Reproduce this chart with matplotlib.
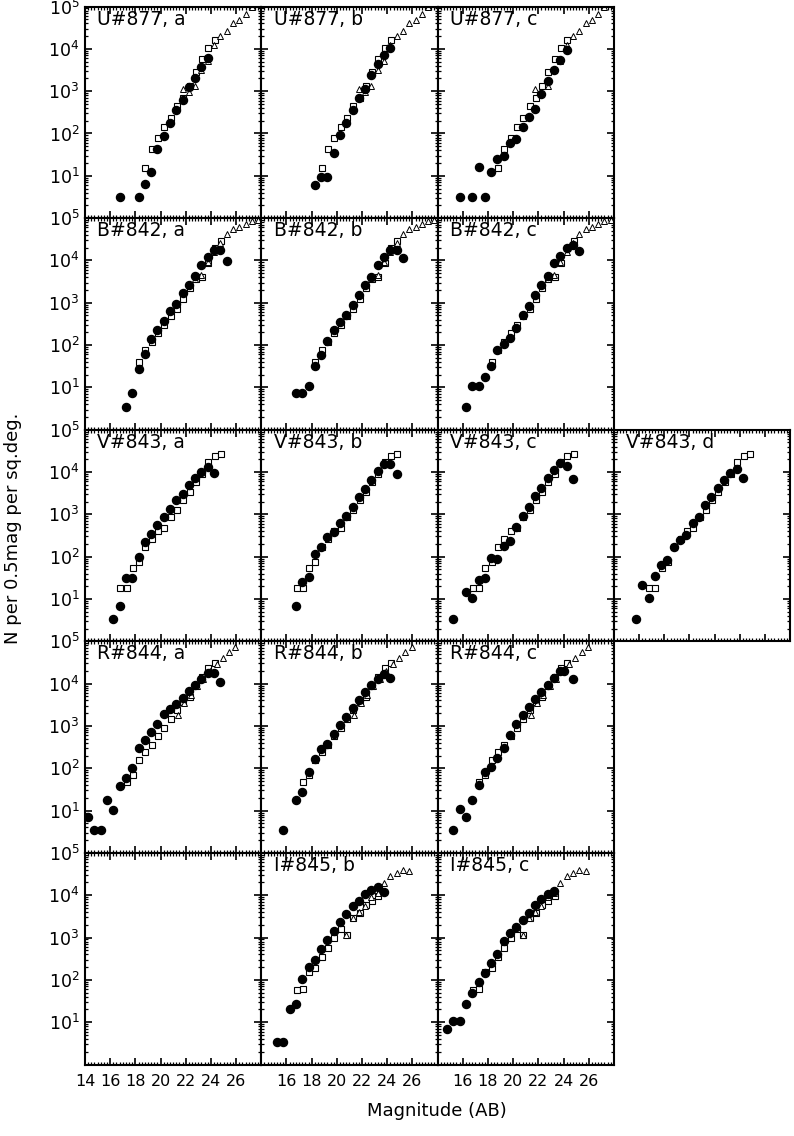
import matplotlib.pyplot as plt
import numpy as np
from matplotlib.ticker import MultipleLocator, LogLocator, NullFormatter

# ---- comparison counts shared by all fields of a band (log10 N) ----
u_sq_mag = [18.8, 19.3, 19.8, 20.3, 20.8, 21.3, 21.8, 22.3, 22.8, 23.3, 23.8, 24.3]
u_sq_logn = [1.18, 1.64, 1.89, 2.15, 2.37, 2.66, 2.83, 3.11, 3.45, 3.75, 4.01, 4.20]
u_tri_mag = [21.75, 22.25, 22.75, 23.25, 23.75, 24.25, 24.75, 25.25, 25.75, 26.25, 26.75, 27.25, 27.75]
u_tri_logn = [3.06, 2.99, 3.12, 3.49, 3.72, 4.08, 4.31, 4.43, 4.61, 4.69, 4.83, 5.0, 5.1]

b_sq_mag = [18.3, 18.8, 19.3, 19.8, 20.3, 20.8, 21.3, 21.8, 22.3, 22.8, 23.3, 23.8, 24.3, 24.8]
b_sq_logn = [1.60, 1.88, 2.07, 2.28, 2.48, 2.68, 2.86, 3.09, 3.34, 3.55, 3.62, 3.95, 4.30, 4.47]
b_tri_mag = [22.75, 23.25, 23.75, 24.25, 24.75, 25.25, 25.75, 26.25, 26.75, 27.25, 27.75]
b_tri_logn = [3.55, 3.65, 3.97, 4.20, 4.40, 4.62, 4.74, 4.80, 4.86, 4.92, 4.95]

v_sq_mag = [16.8, 17.3, 17.8, 18.3, 18.8, 19.3, 19.8, 20.3, 20.8, 21.3, 21.8, 22.3, 22.8, 23.3, 23.8, 24.3, 24.8]
v_sq_logn = [1.27, 1.27, 1.73, 1.87, 2.22, 2.41, 2.61, 2.67, 2.93, 3.10, 3.33, 3.53, 3.77, 3.96, 4.23, 4.37, 4.43]

r_sq_mag = [17.3, 17.8, 18.3, 18.8, 19.3, 19.8, 20.3, 20.8, 21.3, 21.8, 22.3, 22.8, 23.3, 23.8, 24.3]
r_sq_logn = [1.67, 1.84, 2.19, 2.38, 2.55, 2.76, 2.94, 3.17, 3.38, 3.56, 3.69, 3.94, 4.15, 4.36, 4.49]
r_tri_mag = [21.4, 21.9, 22.4, 22.9, 23.4, 23.9, 24.45, 24.95, 25.45, 25.95]
r_tri_logn = [3.27, 3.55, 3.72, 3.95, 4.12, 4.30, 4.47, 4.61, 4.75, 4.86]

i_sq_mag = [16.8, 17.3, 17.8, 18.3, 18.8, 19.3, 19.8, 20.3, 20.8, 21.3, 21.8, 22.3, 22.8, 23.3]
i_sq_logn = [1.75, 1.79, 2.18, 2.28, 2.54, 2.76, 2.99, 3.19, 3.07, 3.45, 3.58, 3.76, 3.86, 3.98]
i_tri_mag = [20.75, 21.25, 21.75, 22.25, 22.75, 23.25, 23.75, 24.25, 24.75, 25.25, 25.75]
i_tri_logn = [3.07, 3.45, 3.60, 3.75, 3.95, 4.05, 4.29, 4.46, 4.52, 4.60, 4.57]

# ---- our counts per field (filled circles) ----
u877_a_mag = [16.75, 18.25, 18.75, 19.25, 19.75, 20.25, 20.75, 21.25, 21.75, 22.25, 22.75, 23.25, 23.75]
u877_a_logn = [0.50, 0.50, 0.80, 1.09, 1.64, 1.94, 2.25, 2.56, 2.80, 3.09, 3.31, 3.57, 3.78]
u877_b_mag = [18.25, 18.75, 19.25, 19.75, 20.25, 20.75, 21.25, 21.75, 22.25, 22.75, 23.25, 23.75, 24.25]
u877_b_logn = [0.79, 0.97, 0.97, 1.53, 1.97, 2.25, 2.55, 2.83, 3.05, 3.39, 3.64, 3.86, 4.02]
u877_c_mag = [15.75, 16.75, 17.25, 17.75, 18.25, 18.75, 19.25, 19.75, 20.25, 20.75, 21.25, 21.75, 22.25, 22.75, 23.25, 23.75, 24.25]
u877_c_logn = [0.50, 0.50, 1.20, 0.50, 1.10, 1.40, 1.46, 1.77, 1.88, 2.15, 2.40, 2.58, 2.94, 3.23, 3.49, 3.74, 3.98]

b842_a_mag = [17.25, 17.75, 18.25, 18.75, 19.25, 19.75, 20.25, 20.75, 21.25, 21.75, 22.25, 22.75, 23.25, 23.75, 24.25, 24.75, 25.25]
b842_a_logn = [0.54, 0.86, 1.44, 1.80, 2.15, 2.36, 2.58, 2.80, 2.97, 3.23, 3.42, 3.64, 3.88, 4.09, 4.25, 4.25, 3.98]
b842_b_mag = [16.75, 17.25, 17.75, 18.25, 18.75, 19.25, 19.75, 20.25, 20.75, 21.25, 21.75, 22.25, 22.75, 23.25, 23.75, 24.25, 24.75, 25.25]
b842_b_logn = [0.86, 0.86, 1.03, 1.50, 1.77, 2.09, 2.36, 2.54, 2.72, 2.95, 3.19, 3.41, 3.60, 3.88, 4.09, 4.25, 4.25, 4.05]
b842_c_mag = [16.25, 16.75, 17.25, 17.75, 18.25, 18.75, 19.25, 19.75, 20.25, 20.75, 21.25, 21.75, 22.25, 22.75, 23.25, 23.75, 24.25, 24.75, 25.25]
b842_c_logn = [0.54, 1.03, 1.03, 1.25, 1.50, 1.88, 2.02, 2.17, 2.41, 2.70, 2.92, 3.19, 3.41, 3.64, 3.93, 4.11, 4.29, 4.37, 4.23]

v843_a_mag = [16.25, 16.75, 17.25, 17.75, 18.25, 18.75, 19.25, 19.75, 20.25, 20.75, 21.25, 21.75, 22.25, 22.75, 23.25, 23.75, 24.25]
v843_a_logn = [0.53, 0.84, 1.49, 1.49, 1.99, 2.35, 2.54, 2.75, 2.93, 3.12, 3.34, 3.49, 3.69, 3.85, 4.00, 4.12, 3.98]
v843_b_mag = [16.75, 17.25, 17.75, 18.25, 18.75, 19.25, 19.75, 20.25, 20.75, 21.25, 21.75, 22.25, 22.75, 23.25, 23.75, 24.25, 24.75]
v843_b_logn = [0.84, 1.39, 1.53, 2.06, 2.24, 2.46, 2.59, 2.79, 2.97, 3.18, 3.41, 3.61, 3.82, 4.03, 4.20, 4.20, 3.96]
v843_c_mag = [15.25, 16.25, 16.75, 17.25, 17.75, 18.25, 18.75, 19.25, 19.75, 20.25, 20.75, 21.25, 21.75, 22.25, 22.75, 23.25, 23.75, 24.25, 24.75]
v843_c_logn = [0.53, 1.16, 1.02, 1.45, 1.49, 1.98, 1.95, 2.26, 2.38, 2.69, 2.96, 3.18, 3.44, 3.63, 3.87, 4.04, 4.22, 4.14, 3.83]
v843_d_mag = [15.75, 16.25, 16.75, 17.25, 17.75, 18.25, 18.75, 19.25, 19.75, 20.25, 20.75, 21.25, 21.75, 22.25, 22.75, 23.25, 23.75, 24.25]
v843_d_logn = [0.53, 1.33, 1.02, 1.55, 1.81, 1.92, 2.24, 2.39, 2.51, 2.79, 2.94, 3.23, 3.41, 3.63, 3.82, 3.98, 4.06, 3.86]

r844_a_mag = [14.25, 14.75, 15.25, 15.75, 16.25, 16.75, 17.25, 17.75, 18.25, 18.75, 19.25, 19.75, 20.25, 20.75, 21.25, 21.75, 22.25, 22.75, 23.25, 23.75, 24.25, 24.75]
r844_a_logn = [0.86, 0.55, 0.55, 1.25, 1.02, 1.59, 1.76, 2.00, 2.47, 2.66, 2.86, 3.04, 3.28, 3.39, 3.52, 3.67, 3.82, 3.96, 4.12, 4.25, 4.24, 4.04]
r844_b_mag = [15.75, 16.75, 17.25, 17.75, 18.25, 18.75, 19.25, 19.75, 20.25, 20.75, 21.25, 21.75, 22.25, 22.75, 23.25, 23.75, 24.25]
r844_b_logn = [0.55, 1.25, 1.45, 1.92, 2.21, 2.45, 2.58, 2.80, 3.02, 3.22, 3.43, 3.62, 3.80, 3.96, 4.11, 4.23, 4.14]
r844_c_mag = [15.25, 15.75, 16.25, 16.75, 17.25, 17.75, 18.25, 18.75, 19.25, 19.75, 20.25, 20.75, 21.25, 21.75, 22.25, 22.75, 23.25, 23.75, 24.05, 24.75]
r844_c_logn = [0.55, 1.04, 0.86, 1.25, 1.61, 1.92, 2.03, 2.24, 2.49, 2.79, 3.04, 3.26, 3.45, 3.63, 3.80, 3.96, 4.14, 4.29, 4.31, 4.12]

i845_b_mag = [15.25, 15.75, 16.25, 16.75, 17.25, 17.75, 18.25, 18.75, 19.25, 19.75, 20.25, 20.75, 21.25, 21.75, 22.25, 22.75, 23.25, 23.75]
i845_b_logn = [0.53, 0.53, 1.30, 1.43, 2.02, 2.30, 2.48, 2.72, 2.95, 3.15, 3.36, 3.56, 3.74, 3.87, 4.02, 4.13, 4.19, 4.07]
i845_c_mag = [14.75, 15.25, 15.75, 16.25, 16.75, 17.25, 17.75, 18.25, 18.75, 19.25, 19.75, 20.25, 20.75, 21.25, 21.75, 22.25, 22.75, 23.25]
i845_c_logn = [0.83, 1.02, 1.02, 1.44, 1.69, 1.95, 2.17, 2.39, 2.60, 2.93, 3.11, 3.25, 3.41, 3.58, 3.76, 3.92, 4.02, 4.09]

# (row, col, label, circles, squares, triangles)
panels = [
    (0, 0, 'U#877, a', (u877_a_mag, u877_a_logn), (u_sq_mag, u_sq_logn), (u_tri_mag, u_tri_logn)),
    (0, 1, 'U#877, b', (u877_b_mag, u877_b_logn), (u_sq_mag, u_sq_logn), (u_tri_mag, u_tri_logn)),
    (0, 2, 'U#877, c', (u877_c_mag, u877_c_logn), (u_sq_mag, u_sq_logn), (u_tri_mag, u_tri_logn)),
    (1, 0, 'B#842, a', (b842_a_mag, b842_a_logn), (b_sq_mag, b_sq_logn), (b_tri_mag, b_tri_logn)),
    (1, 1, 'B#842, b', (b842_b_mag, b842_b_logn), (b_sq_mag, b_sq_logn), (b_tri_mag, b_tri_logn)),
    (1, 2, 'B#842, c', (b842_c_mag, b842_c_logn), (b_sq_mag, b_sq_logn), (b_tri_mag, b_tri_logn)),
    (2, 0, 'V#843, a', (v843_a_mag, v843_a_logn), (v_sq_mag, v_sq_logn), None),
    (2, 1, 'V#843, b', (v843_b_mag, v843_b_logn), (v_sq_mag, v_sq_logn), None),
    (2, 2, 'V#843, c', (v843_c_mag, v843_c_logn), (v_sq_mag, v_sq_logn), None),
    (2, 3, 'V#843, d', (v843_d_mag, v843_d_logn), (v_sq_mag, v_sq_logn), None),
    (3, 0, 'R#844, a', (r844_a_mag, r844_a_logn), (r_sq_mag, r_sq_logn), (r_tri_mag, r_tri_logn)),
    (3, 1, 'R#844, b', (r844_b_mag, r844_b_logn), (r_sq_mag, r_sq_logn), (r_tri_mag, r_tri_logn)),
    (3, 2, 'R#844, c', (r844_c_mag, r844_c_logn), (r_sq_mag, r_sq_logn), (r_tri_mag, r_tri_logn)),
    (4, 0, None, None, None, None),
    (4, 1, 'I#845, b', (i845_b_mag, i845_b_logn), (i_sq_mag, i_sq_logn), (i_tri_mag, i_tri_logn)),
    (4, 2, 'I#845, c', (i845_c_mag, i845_c_logn), (i_sq_mag, i_sq_logn), (i_tri_mag, i_tri_logn)),
]

W, H = 794, 1136
col_left = [85 + 176.3 * c for c in range(4)]
row_top = [6.5 + 211.6 * r for r in range(5)]
pw, ph = 176.3, 211.6

fig = plt.figure(figsize=(W / 100, H / 100), dpi=100)


def setup_axes(ax, row, col):
    ax.set_yscale('log')
    ax.set_xlim(14, 28)
    ax.set_ylim(1, 1e5)
    ax.xaxis.set_major_locator(MultipleLocator(2))
    ax.xaxis.set_minor_locator(MultipleLocator(0.25))
    ax.yaxis.set_major_locator(LogLocator(base=10, numticks=10))
    ax.yaxis.set_minor_locator(LogLocator(base=10, subs=np.arange(2, 10), numticks=10))
    ax.yaxis.set_minor_formatter(NullFormatter())
    ax.tick_params(which='both', direction='in', top=True, right=True)
    ax.tick_params(which='major', length=5, width=1.2)
    ax.tick_params(which='minor', length=2.5, width=0.9)
    for s in ax.spines.values():
        s.set_linewidth(1.5)
    if col == 0:
        ax.set_yticks([1e1, 1e2, 1e3, 1e4, 1e5],
                      labels=[r'$10^{%d}$' % k for k in range(1, 6)])
        ax.tick_params(axis='y', labelsize=12.5, pad=4)
    else:
        ax.tick_params(axis='y', labelleft=False)
    if row == 4:
        ticks = list(range(14, 29, 2))
        labels = [str(t) for t in ticks]
        labels[-1] = ''
        if col != 0:
            labels[0] = ''
        ax.set_xticks(ticks, labels=labels)
        ax.tick_params(axis='x', labelsize=11.5, pad=7)
    else:
        ax.tick_params(axis='x', labelbottom=False)


for row, col, label, circ, sq, tri in panels:
    ax = fig.add_axes([col_left[col] / W, 1 - (row_top[row] + ph) / H, pw / W, ph / H])
    setup_axes(ax, row, col)
    if label is None:
        continue
    ax.plot(sq[0], 10 ** np.array(sq[1]), 's', ms=4.2, mfc='white', mec='black', mew=0.8)
    if tri is not None:
        ax.plot(tri[0], 10 ** np.array(tri[1]), '^', ms=4.0, mfc='white', mec='black', mew=0.7)
    ax.plot(circ[0], 10 ** np.array(circ[1]), 'o', ms=5.8, color='black')
    ax.text(0.07, 0.985, label, transform=ax.transAxes, ha='left', va='top', fontsize=13.5)

fig.text(0.016, 0.535, 'N per 0.5mag per sq.deg.', rotation=90, ha='center', va='center', fontsize=13)
fig.text(0.55, 0.022, 'Magnitude (AB)', ha='center', va='center', fontsize=13)

plt.savefig('out.png', dpi=100)
